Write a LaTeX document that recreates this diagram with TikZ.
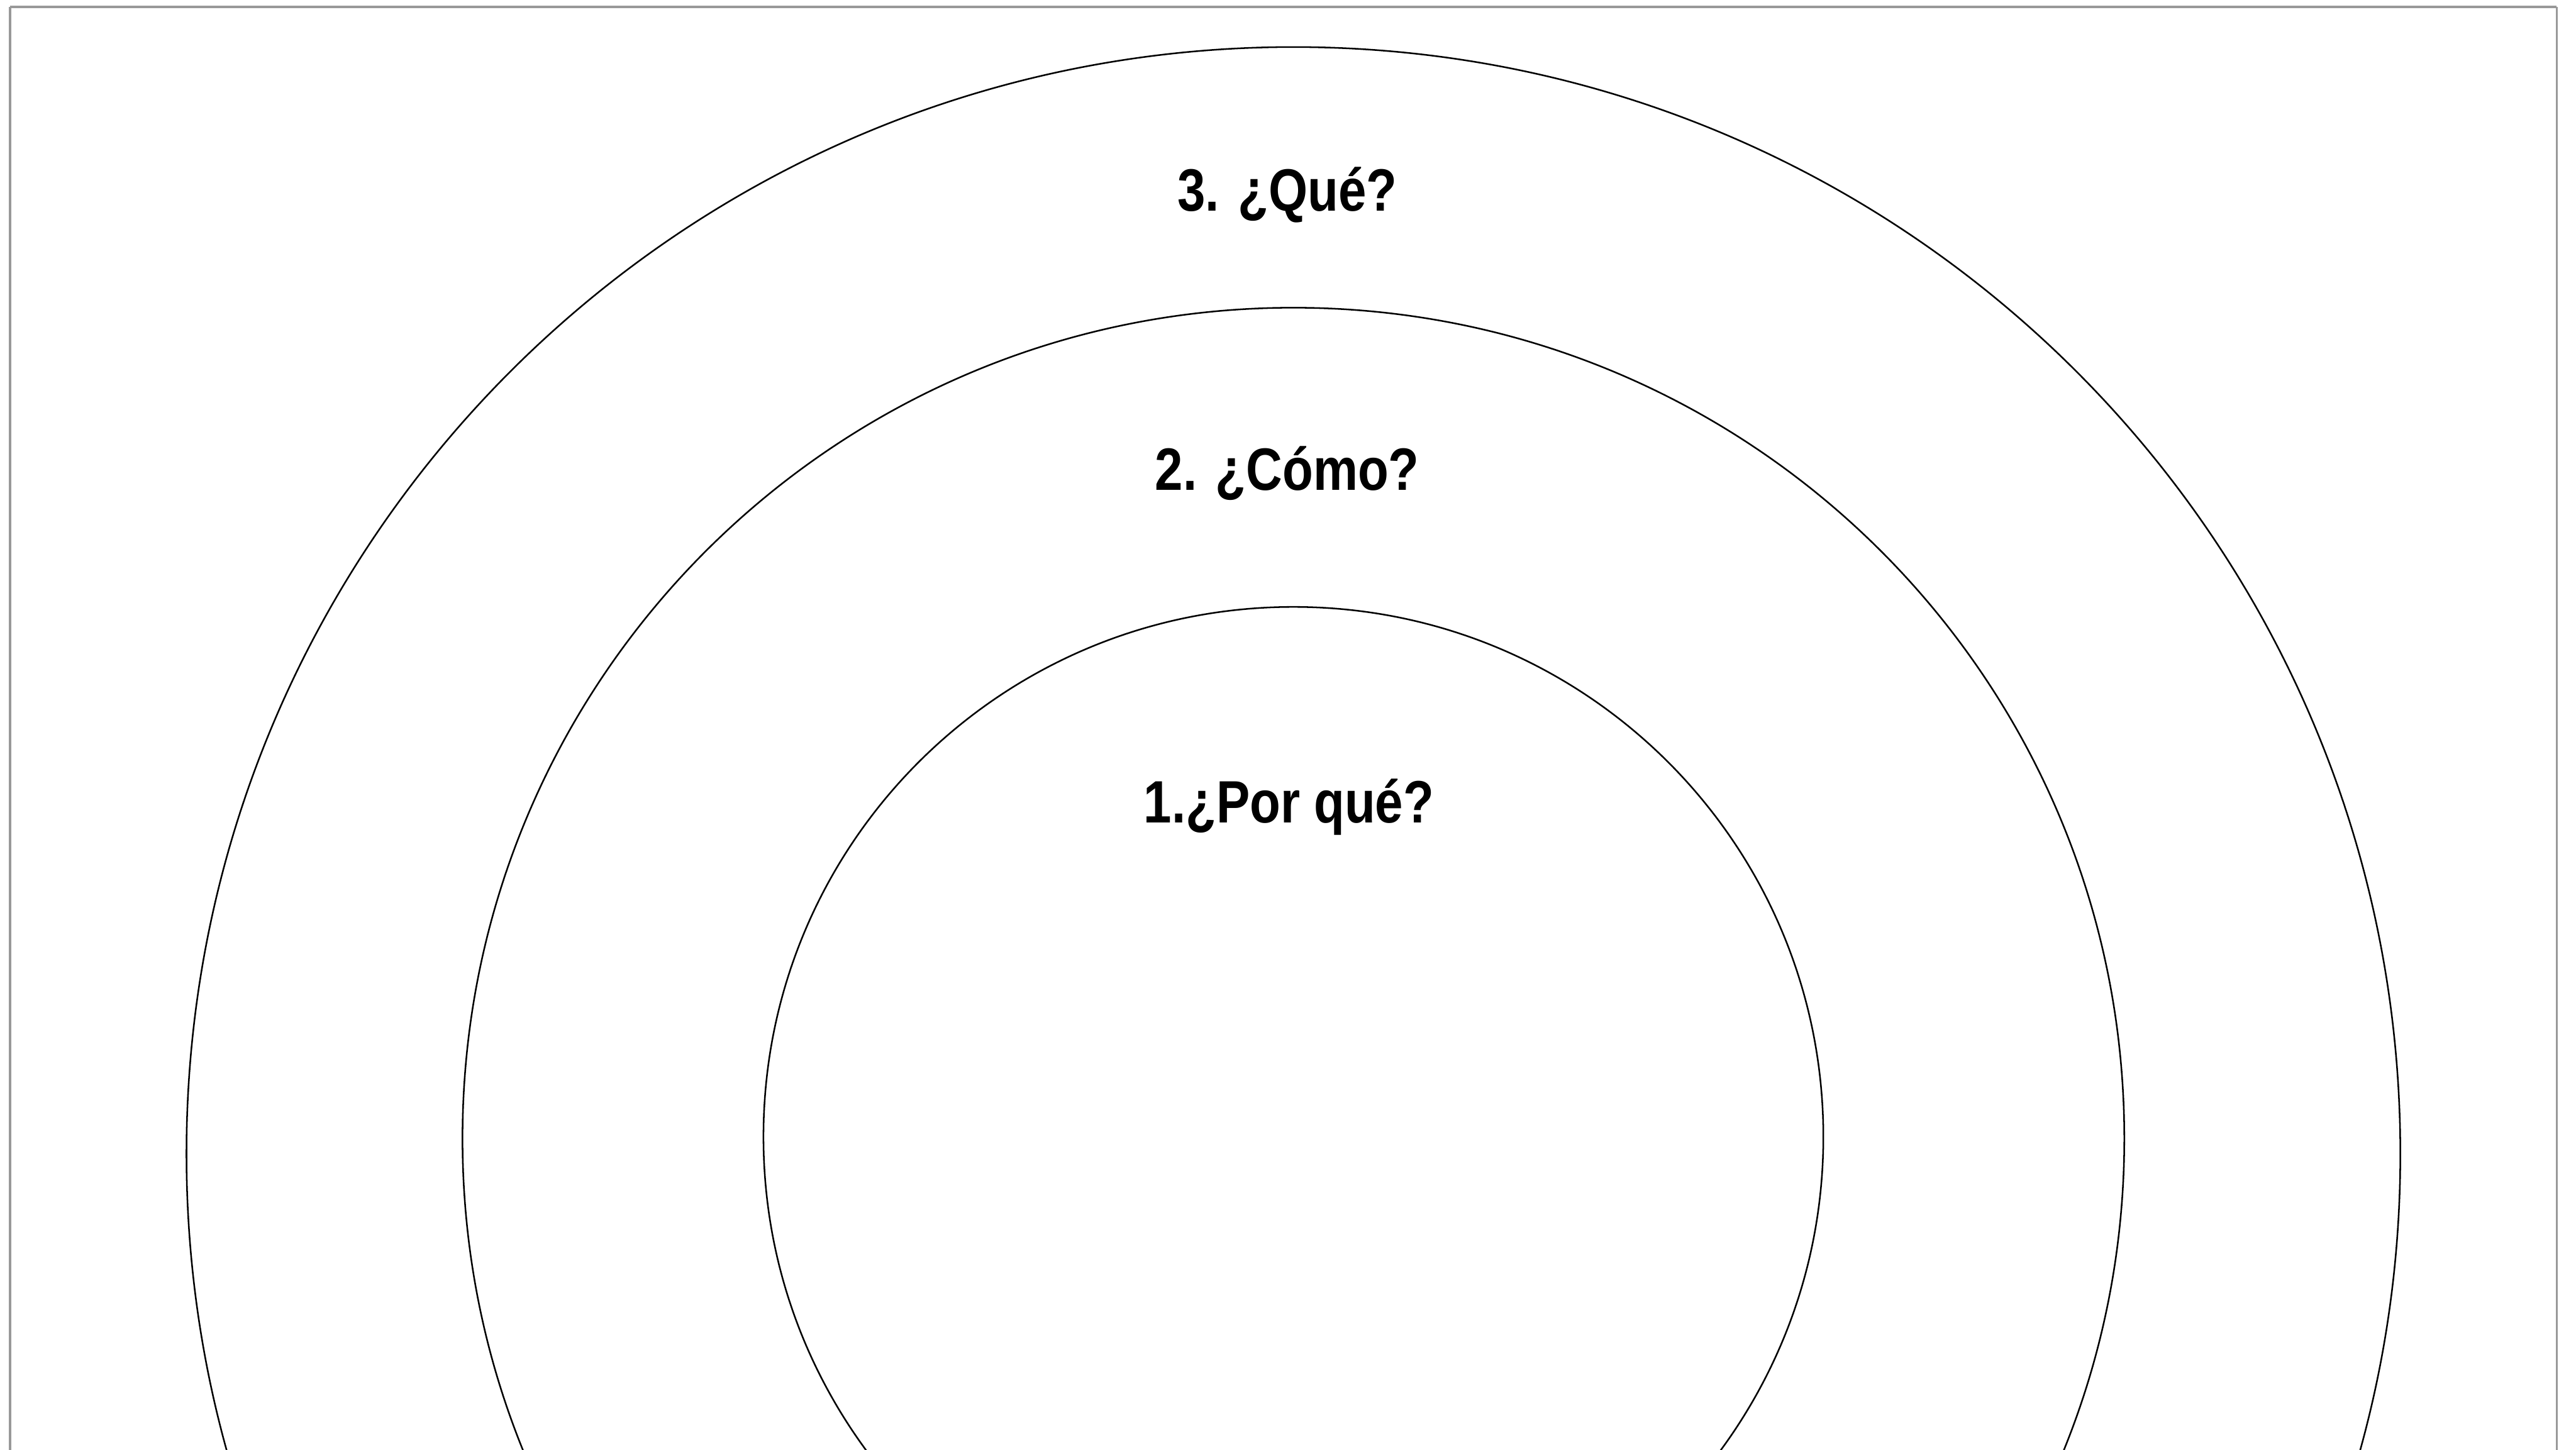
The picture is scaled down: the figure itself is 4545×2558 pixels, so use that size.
\documentclass[tikz,border=0pt]{standalone}
\usepackage{fontspec}
\setmainfont{Liberation Sans}
\newfontfamily\labelfont[FakeStretch=0.84]{Liberation Sans}
\begin{document}
\begin{tikzpicture}[x=0.01cm,y=-0.01cm,
  ring/.style={draw=black,line width=0.8pt},
  frame/.style={draw=black!40,line width=1.1pt},
  label/.style={font=\labelfont\fontsize{30}{36}\selectfont\bfseries,inner sep=0pt,anchor=base}]
\useasboundingbox (0,0) rectangle (4545,2558);
\fill[white] (0,0) rectangle (4545,2558);
\begin{scope}
\clip (0,0) rectangle (4545,2558);
\draw[frame] (18,12) -- (4511,12);
\draw[frame] (18,12) -- (18,2700);
\draw[frame] (4511,12) -- (4511,2700);
\coordinate (c3) at (2282,2036);
\coordinate (c2) at (2282,2009);
\coordinate (c1) at (2282,2006);
\draw[ring] (c3) circle [radius=1953];
\draw[ring] (c2) circle [radius=1466];
\draw[ring] (c1) circle [radius=935];
\end{scope}
\node[label] (q3) at (2271,372) {3. ¿Qué?};
\node[label] (q2) at (2271,865) {2. ¿Cómo?};
\node[label] (q1) at (2274,1452) {1.¿Por qué?};
\end{tikzpicture}
\end{document}
